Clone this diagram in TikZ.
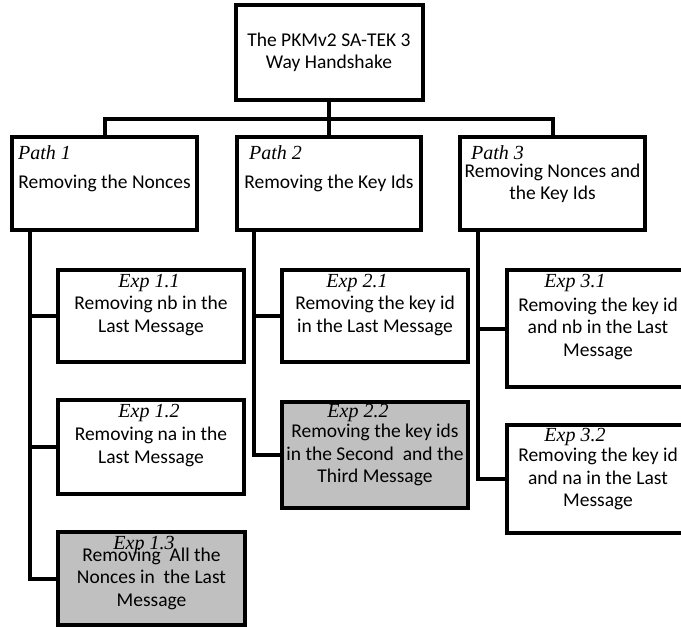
\documentclass[tikz,border=0pt]{standalone}
\usepackage{fontspec}
\setmainfont{Carlito}
\newfontfamily\labfont{Liberation Serif}
\definecolor{boxgray}{RGB}{192,192,192}
\begin{document}
\begin{tikzpicture}[x=1pt,y=-1pt,
  box/.style={draw, line width=4pt, inner sep=0pt, align=center,
    font=\fontsize{19.5}{22.5}\selectfont},
  grayfill/.style={fill=boxgray},
  lab/.style={inner sep=0pt, font=\labfont\itshape\fontsize{20}{22}\selectfont},
  conn/.style={line width=4pt, line cap=rect}]
\fill[white] (0,0) rectangle (681,627);
\useasboundingbox (0,0) rectangle (681,627);

\node[box, minimum width=187pt, minimum height=95pt] (root) at (329,52.5)
  {The PKMv2 SA-TEK 3\\Way Handshake};

\node[box, minimum width=185pt, minimum height=93pt] (p1) at (104.5,183.5) {Removing the Nonces};
\node[box, minimum width=184pt, minimum height=93pt] (p2) at (329,183.5) {Removing the Key Ids};
\node[box, minimum width=185pt, minimum height=93pt] (p3) at (552.5,183.5) {Removing Nonces and\\the Key Ids};

\node[box, minimum width=186pt, minimum height=92pt] (e11) at (151,316) {Removing nb in the\\Last Message};
\node[box, minimum width=186pt, minimum height=94pt] (e12) at (151,447) {Removing na in the\\Last Message};
\node[box, grayfill, minimum width=187pt, minimum height=93pt] (e13) at (151.5,578.5) {Removing \ All the\\Nonces in \ the Last\\Message};

\node[box, minimum width=186pt, minimum height=92pt] (e21) at (375,316) {Removing the key id\\in the Last Message};
\node[box, grayfill, minimum width=186pt, minimum height=106pt] (e22) at (375,455) {Removing the key ids\\in the Second \ and the\\Third Message};

\node[box, minimum width=182pt, minimum height=117pt] (e31) at (598,328.5) {Removing the key id\\and nb in the Last\\Message};
\node[box, minimum width=182pt, minimum height=108pt] (e32) at (598,479) {Removing the key id\\and na in the Last\\Message};

% labels
\node[lab, anchor=west] (lp1) at (18,153) {Path 1};
\node[lab, anchor=west] (lp2) at (249,153) {Path 2};
\node[lab, anchor=west] (lp3) at (471,153) {Path 3};
\node[lab] (le11) at (149,283) {Exp 1.1};
\node[lab] (le12) at (149,413) {Exp 1.2};
\node[lab] (le13) at (144,545) {Exp 1.3};
\node[lab] (le21) at (357,283) {Exp 2.1};
\node[lab] (le22) at (358,413) {Exp 2.2};
\node[lab] (le31) at (575,283) {Exp 3.1};
\node[lab] (le32) at (575,437) {Exp 3.2};

% tree connectors
\coordinate (bar) at (329,119);
\draw[conn] (root.south) -- (p2.north);
\draw[conn] (p1.north) -- (p1.north |- bar) -- (p3.north |- bar) -- (p3.north);

\draw[conn] ([xshift=20pt]p1.south west) |- (e11.west);
\draw[conn] ([xshift=20pt]p1.south west) |- (e12.west);
\draw[conn] ([xshift=20pt]p1.south west) |- (e13.west);

\draw[conn] ([xshift=19pt]p2.south west) |- (e21.west);
\draw[conn] ([xshift=19pt]p2.south west) |- (e22.west);

\draw[conn] ([xshift=20pt]p3.south west) |- (e31.west);
\draw[conn] ([xshift=20pt]p3.south west) |- (e32.west);
\end{tikzpicture}
\end{document}
